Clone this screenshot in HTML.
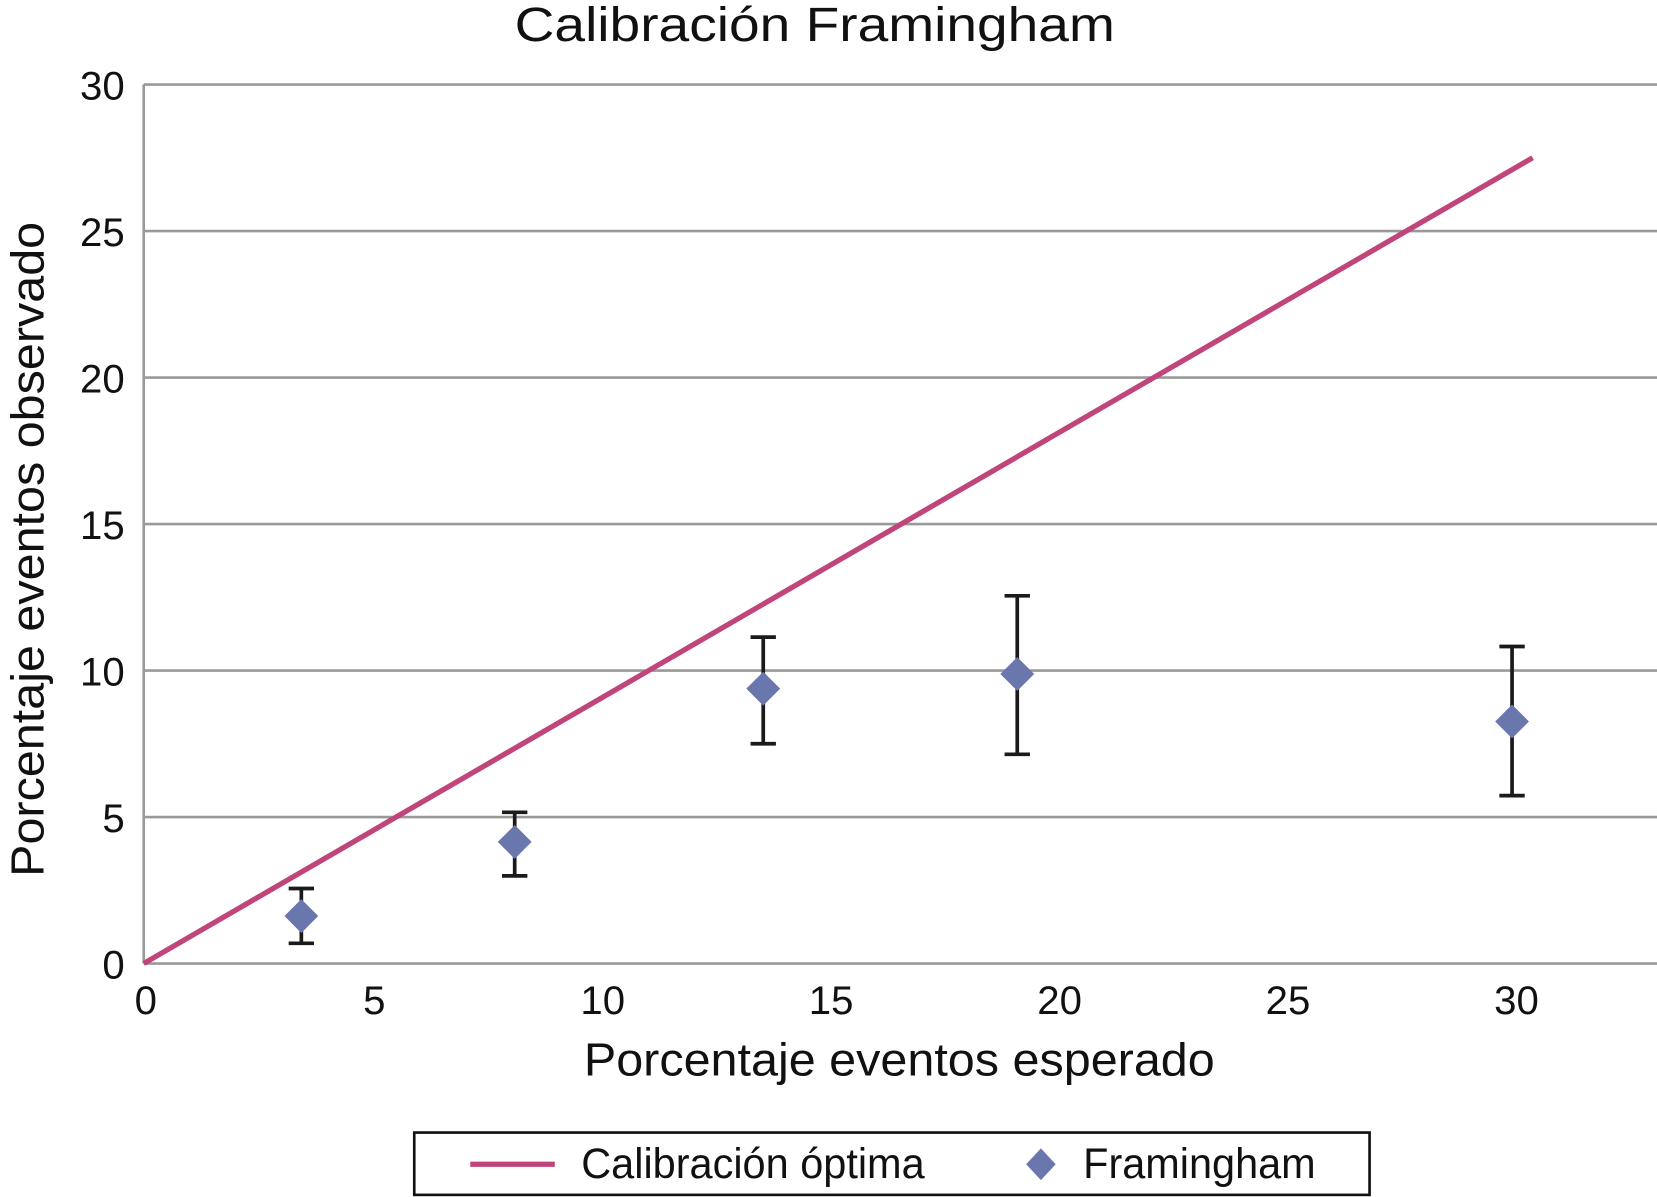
<!DOCTYPE html>
<html><head><meta charset="utf-8"><style>
html,body{margin:0;padding:0;background:#fff;}
svg{display:block;font-family:"Liberation Sans",Arial,sans-serif;}
</style></head><body>
<svg id="chart" width="1657" height="1197" viewBox="0 0 1568 1133" preserveAspectRatio="none" xmlns="http://www.w3.org/2000/svg">
<rect width="1568" height="1133" fill="#fff"/>
<text x="771" y="39" font-size="46" text-anchor="middle" fill="#111" textLength="568" lengthAdjust="spacingAndGlyphs">Calibración Framingham</text>
<g id="grid"></g>
<g id="yticks"></g>
<g id="xticks"></g>
<line x1="136" y1="80" x2="136" y2="912" stroke="#999" stroke-width="2.5"/>
<text transform="translate(41,520) rotate(-90)" font-size="44" text-anchor="middle" fill="#111" textLength="620" lengthAdjust="spacingAndGlyphs">Porcentaje eventos observado</text>
<text x="851" y="1018" font-size="44" text-anchor="middle" fill="#111" textLength="597" lengthAdjust="spacingAndGlyphs">Porcentaje eventos esperado</text>
<g id="series"></g>
<g>
<rect x="392" y="1072" width="904" height="59" fill="#fff" stroke="#111" stroke-width="2.5"/>
<line x1="445" y1="1102" x2="525" y2="1102" stroke="#c0457a" stroke-width="5"/>
<text x="550" y="1115" font-size="40" fill="#111" textLength="325" lengthAdjust="spacingAndGlyphs">Calibración óptima</text>
<path d="M985 1087 L999 1102 L985 1117 L971 1102 Z" fill="#6a77ad"/>
<text x="1025" y="1115" font-size="40" fill="#111" textLength="220" lengthAdjust="spacingAndGlyphs">Framingham</text>
</g>
</svg>
<script>
const yTicks = [0, 5, 10, 15, 20, 25, 30];
const xTicks = [0, 5, 10, 15, 20, 25, 30];
const lineX = [0, 30.4];
const lineY = [0, 27.5];
const ptX = [3.45, 8.12, 13.56, 19.12, 29.95];
const ptY = [1.62, 4.15, 9.38, 9.88, 8.26];
const ptLow = [0.69, 2.99, 7.50, 7.14, 5.73];
const ptHigh = [2.56, 5.16, 11.14, 12.55, 10.82];

const NS = "http://www.w3.org/2000/svg";
const L = 136, R = 1568, T = 80, B = 912;
const xs = v => L + v * (1433 - L) / 30;
const ys = v => B - v * (B - T) / 30;
function mk(tag, attrs, parent) {
  const e = document.createElementNS(NS, tag);
  for (const k in attrs) e.setAttribute(k, attrs[k]);
  parent.appendChild(e);
  return e;
}
const grid = document.getElementById('grid');
const yt = document.getElementById('yticks');
const xt = document.getElementById('xticks');
const ser = document.getElementById('series');
yTicks.forEach(v => {
  const g = mk('line', {x1: L, x2: R, y1: ys(v), y2: ys(v), stroke: '#999', 'stroke-width': 2.5}, grid);
  
  
  const t = mk('text', {x: 118, y: ys(v) + 14, 'font-size': 38, 'text-anchor': 'end', fill: '#111'}, yt);
  t.textContent = v;
  
  
});
xTicks.forEach(v => {
  const t = mk('text', {x: xs(v) + 2, y: 960, 'font-size': 38, 'text-anchor': 'middle', fill: '#111'}, xt);
  t.textContent = v;
  
  
});
const pl = mk('polyline', {points: lineX.map((x, i) => xs(x) + ',' + ys(lineY[i])).join(' '), fill: 'none', stroke: '#c0457a', 'stroke-width': 5}, ser);


ptX.forEach((x, i) => {
  const cx = xs(x);
  const eb = mk('path', {d: `M${cx} ${ys(ptLow[i])} V${ys(ptHigh[i])} M${cx-12} ${ys(ptLow[i])} H${cx+12} M${cx-12} ${ys(ptHigh[i])} H${cx+12}`, stroke: '#1a1a1a', 'stroke-width': 3.5, fill: 'none'}, ser);
  
  
  const cy = ys(ptY[i]);
  const d = mk('path', {d: `M${cx} ${cy-16} L${cx+16} ${cy} L${cx} ${cy+16} L${cx-16} ${cy} Z`, fill: '#6a77ad'}, ser);
  
  
});
</script>
</body></html>
